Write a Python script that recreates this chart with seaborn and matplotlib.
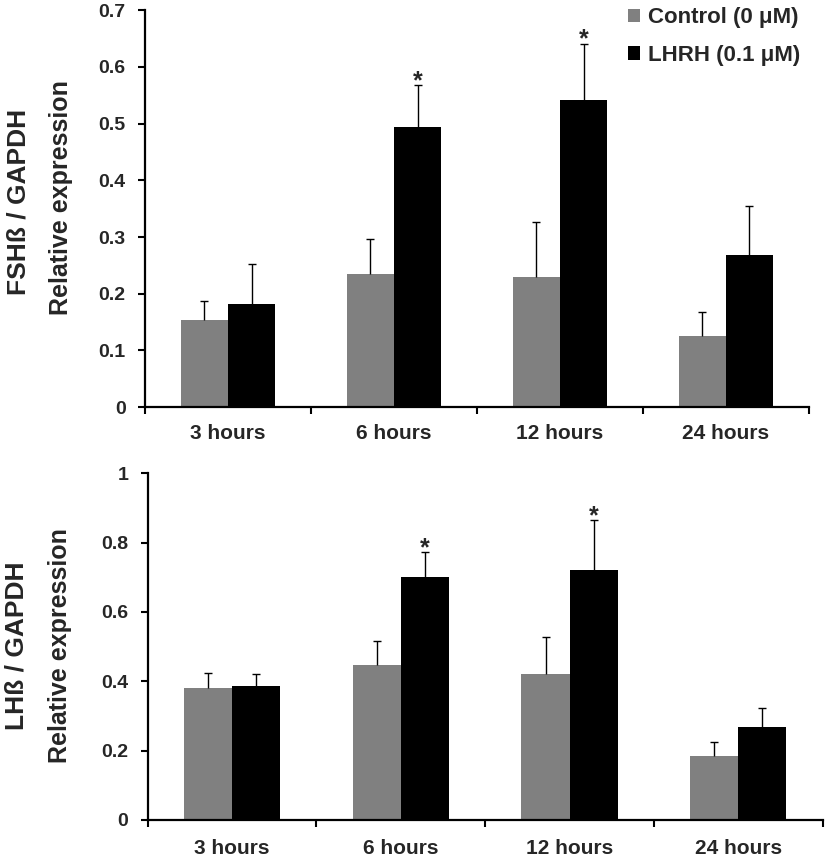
import numpy as np
import pandas as pd
import matplotlib
matplotlib.use("Agg")
import matplotlib.pyplot as plt
import seaborn as sns
from matplotlib.ticker import FixedLocator

times = ["3 hours", "6 hours", "12 hours", "24 hours"]
groups = ["Control (0 μM)", "LHRH (0.1 μM)"]

fsh_control = [0.154, 0.234, 0.229, 0.126]
fsh_control_err = [0.033, 0.062, 0.097, 0.041]
fsh_lhrh = [0.181, 0.494, 0.542, 0.269]
fsh_lhrh_err = [0.072, 0.074, 0.099, 0.086]
fsh_sig = [False, True, True, False]

lh_control = [0.380, 0.447, 0.420, 0.185]
lh_control_err = [0.045, 0.069, 0.108, 0.039]
lh_lhrh = [0.387, 0.700, 0.721, 0.269]
lh_lhrh_err = [0.033, 0.072, 0.143, 0.055]
lh_sig = [False, True, True, False]

fsh_ticks = [0, 0.1, 0.2, 0.3, 0.4, 0.5, 0.6, 0.7]
fsh_ticklabels = ["0", "0.1", "0.2", "0.3", "0.4", "0.5", "0.6", "0.7"]
lh_ticks = [0, 0.2, 0.4, 0.6, 0.8, 1.0]
lh_ticklabels = ["0", "0.2", "0.4", "0.6", "0.8", "1"]

sns.set_style("white")
plt.rcParams["font.family"] = ["Liberation Sans", "DejaVu Sans"]
plt.rcParams["font.weight"] = "bold"

palette = ["#808080", "#000000"]

fig = plt.figure(figsize=(8.27, 8.57), dpi=100)
ax1 = fig.add_axes([0.1753, 0.525, 0.978 - 0.1753, 0.988 - 0.525])
ax2 = fig.add_axes([0.1786, 0.0432, 0.9948 - 0.1786, 0.4477 - 0.0432])


def panel(ax, ctrl, ctrl_err, lhrh, lhrh_err, sig, ymax, ticks, ticklabels, show_legend, xpad):
    df = pd.DataFrame({
        "time": times * 2,
        "group": [groups[0]] * 4 + [groups[1]] * 4,
        "value": list(ctrl) + list(lhrh),
    })
    sns.barplot(data=df, x="time", y="value", hue="group", order=times,
                hue_order=groups, palette=palette, width=0.57, errorbar=None,
                linewidth=0, ax=ax, legend=show_legend, saturation=1)
    errs = [ctrl_err, lhrh_err]
    conts = list(ax.containers)
    for ci, cont in enumerate(conts):
        for j, bar in enumerate(cont.patches):
            xc = bar.get_x() + bar.get_width() / 2
            h = bar.get_height()
            eb = ax.errorbar(xc, h, yerr=[[0], [errs[ci][j]]], fmt="none",
                             ecolor="black", elinewidth=1.0, capsize=3.2,
                             capthick=1.0, zorder=3)
            caps = eb[1]
            if len(caps) >= 2:
                caps[0].set_visible(False)
            if ci == 1 and sig[j]:
                ax.annotate("*", (xc, h + errs[ci][j]), xytext=(0, -2),
                            textcoords="offset points", ha="center",
                            va="baseline", fontsize=18, fontweight="bold")
    ax.set_xlim(-0.5, 3.5)
    ax.set_ylim(0, ymax)
    ax.set_yticks(ticks)
    ax.set_yticklabels(ticklabels, fontsize=14, fontweight="bold")
    ax.set_xticks(range(4))
    ax.set_xticklabels(times, fontsize=15, fontweight="bold")
    ax.xaxis.set_minor_locator(FixedLocator([-0.5, 0.5, 1.5, 2.5, 3.5]))
    ax.tick_params(axis="x", which="major", length=0, pad=xpad)
    ax.tick_params(axis="x", which="minor", length=5, width=1.5,
                   direction="out", bottom=True, color="black")
    ax.tick_params(axis="y", length=5, width=1.5, direction="out",
                   left=True, color="black", pad=9)
    for s in ["top", "right"]:
        ax.spines[s].set_visible(False)
    for s in ["left", "bottom"]:
        ax.spines[s].set_color("black")
        ax.spines[s].set_linewidth(1.6)
    ax.set_xlabel("")
    ax.set_ylabel("")
    ax.grid(False)


panel(ax1, fsh_control, fsh_control_err, fsh_lhrh, fsh_lhrh_err, fsh_sig,
      0.7, fsh_ticks, fsh_ticklabels, True, 12.5)
panel(ax2, lh_control, lh_control_err, lh_lhrh, lh_lhrh_err, lh_sig,
      1.0, lh_ticks, lh_ticklabels, False, 13.5)

leg = ax1.legend(loc="upper right", bbox_to_anchor=(1.0, 1.03), frameon=False,
                 prop={"size": 16, "weight": "bold"}, handlelength=0.55,
                 handleheight=0.55, handletextpad=0.35, labelspacing=0.75,
                 borderaxespad=0)

fig.text(0.0218, 0.7643, "FSHß / GAPDH", rotation=90, ha="center",
         va="center", fontsize=19, fontweight="bold")
fig.text(0.0738, 0.7690, "Relative expression", rotation=90, ha="center",
         va="center", fontsize=18, fontweight="bold")
fig.text(0.0202, 0.2462, "LHß / GAPDH", rotation=90, ha="center",
         va="center", fontsize=19, fontweight="bold")
fig.text(0.0726, 0.2462, "Relative expression", rotation=90, ha="center",
         va="center", fontsize=18, fontweight="bold")

fig.savefig("out.png", dpi=100)
